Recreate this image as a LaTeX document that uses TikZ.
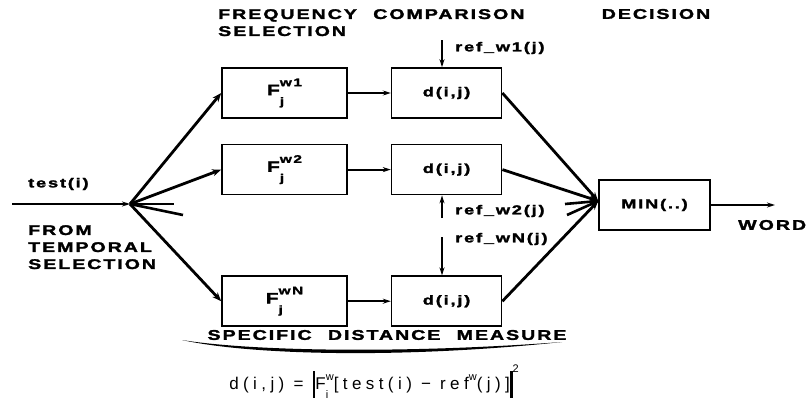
\documentclass[tikz,border=0pt]{standalone}
\usepackage{fontspec}
\setmainfont{Liberation Sans}
\newfontfamily\wide[FakeStretch=1.4,LetterSpace=14,WordSpace=2.2,FakeBold=2]{Liberation Sans Bold}
\newfontfamily\formfont[LetterSpace=26]{Liberation Sans}
\usetikzlibrary{positioning,arrows.meta}
\newcommand{\supsz}{\fontsize{11}{11}\selectfont}
\newcommand{\fsel}[1]{{\fontsize{15}{15}\selectfont F}\rlap{\raisebox{-10pt}{\supsz j}}\raisebox{9pt}{\supsz #1}}
\newcommand{\vbar}{\rule[-8pt]{2.8pt}{27pt}}

\begin{document}
\begin{tikzpicture}[x=1pt, y=-1pt,
  fbox/.style={draw, line width=1.6pt, minimum width=125pt, minimum height=50pt, inner sep=0pt, font=\wide\fontsize{13}{13}\selectfont},
  dbox/.style={fbox, minimum width=110pt},
  title/.style={font=\wide\fontsize{14}{17}\selectfont, align=left, inner sep=0pt},
  lbl/.style={font=\wide\fontsize{13}{16}\selectfont, align=left, inner sep=0pt},
  formula/.style={font=\formfont\fontsize{17}{17}\selectfont, inner sep=0pt},
  fan/.style={-{Stealth[length=9pt,width=7pt]}, line width=2.8pt},
  link/.style={-{Stealth[length=8pt,width=5pt]}, line width=1.9pt},
  stub/.style={line width=2.6pt}]
\useasboundingbox (0,0) rectangle (808,405);
% frequency selection and comparison
\node[fbox] (f1) at (284.5,93) {\fsel{w1}};
\node[fbox, below=25pt of f1] (f2) {\fsel{w2}};
\node[fbox, below=80pt of f2] (fn) {\fsel{wN}};
\node[dbox, right=43pt of f1] (d1) {d(i,j)};
\node[dbox, right=43pt of f2] (d2) {d(i,j)};
\node[dbox, right=43pt of fn] (dn) {d(i,j)};
\node[dbox, minimum width=111pt] (mn) at (654.5,205) {MIN(..)};
\draw[link] (f1) -- (d1); \draw[link] (f2) -- (d2); \draw[link] (fn) -- (dn);
% input fan
\coordinate (in) at (12,204);
\coordinate (jn) at (130,204);
\coordinate (s1) at (174,204);
\coordinate (s2) at (183,215);
\draw[link] (in) -- (jn);
\draw[fan] (jn) -- (f1.west); \draw[fan] (jn) -- (f2.west); \draw[fan] (jn) -- (fn.west);
\draw[stub] (jn) -- (s1); \draw[stub] (jn) -- (s2);
% decision
\coordinate (mi) at ([yshift=4pt]mn.west);
\coordinate (t1) at (565,204);
\coordinate (t2) at (567,215);
\draw[fan] (d1.east) -- (mi); \draw[fan] (d2.east) -- (mi); \draw[fan] (dn.east) -- (mi);
\draw[stub] (t1) -- (mi); \draw[stub] (t2) -- (mi);
\coordinate (out) at (775,205);
\draw[link] (mn) -- (out);
% references
\coordinate (r1) at (442,40);
\coordinate (r2) at (442,218);
\coordinate (rn) at (442,237);
\draw[link] (r1) -- (r1 |- d1.north);
\draw[link] (r2) -- (r2 |- d2.south);
\draw[link] (rn) -- (rn |- dn.north);
\node[lbl, anchor=west] (l1) at (455,48) {ref\_w1(j)};
\node[lbl, anchor=west] (l2) at (455,211) {ref\_w2(j)};
\node[lbl, anchor=west] (ln) at (455,239) {ref\_wN(j)};
% texts
\node[title, anchor=north west] (hf) at (218,9) {FREQUENCY COMPARISON\\SELECTION};
\node[title] (hd) at (656,14) {DECISION};
\node[lbl, anchor=west] (ti) at (28,184) {test(i)};
\node[title, anchor=north west] (ft) at (28,225) {FROM\\TEMPORAL\\SELECTION};
\node[title, anchor=west] (wd) at (738,225) {WORD};
\node[title] (sd) at (387,335) {SPECIFIC DISTANCE MEASURE};
\fill (182,340) .. controls (250,355) and (400,359) .. (562,342)
  .. controls (400,354) and (250,351) .. cycle;
\node[formula] (eq) at (374,382) {d(i,j) = \vbar F\rlap{\raisebox{-9pt}{\supsz i}}\raisebox{9pt}{\supsz w}[test(i) − ref\raisebox{9pt}{\supsz w}(j)]\vbar\raisebox{17pt}{\supsz 2}};
\end{tikzpicture}
\end{document}
